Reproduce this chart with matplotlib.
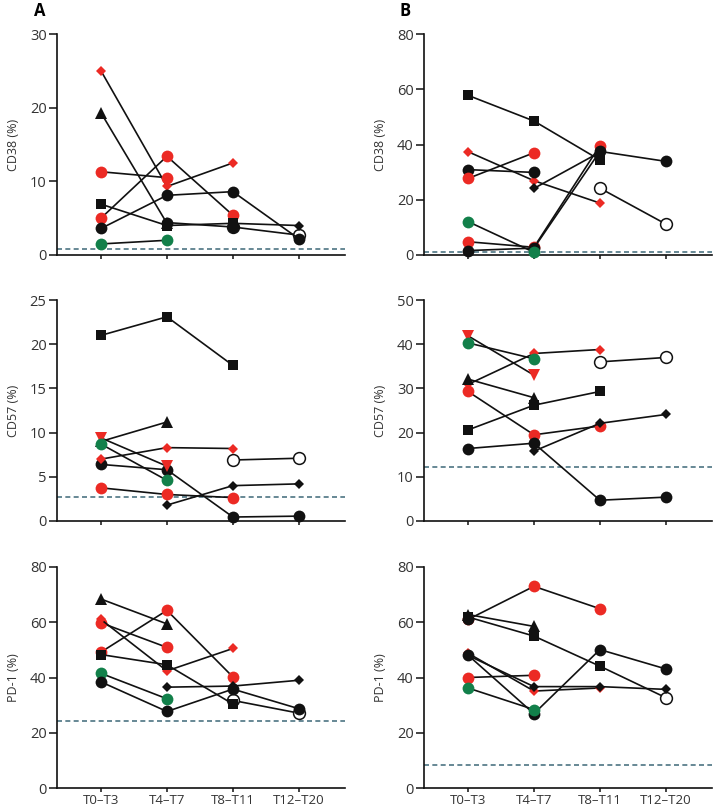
import numpy as np
import matplotlib
matplotlib.use("Agg")
import matplotlib.pyplot as plt

nan = np.nan

periods = ["T0\u2013T3", "T4\u2013T7", "T8\u2013T11", "T12\u2013T20"]

# each panel: list of (style, values at the four periods); drawn in list order
cd38_a = [
    ("open_circle", [nan, nan, 3.8, 2.7]),
    ("black_diamond", [nan, nan, 4.3, 4.0]),
    ("black_circle", [nan, 4.4, 3.8, nan]),
    ("red_diamond", [25.0, 9.3, 12.5, nan]),
    ("black_triangle", [19.3, 4.3, nan, nan]),
    ("red_circle", [11.3, 10.5, nan, nan]),
    ("red_circle", [5.0, 13.4, 5.4, nan]),
    ("black_square", [6.9, 4.0, 4.3, nan]),
    ("black_circle", [3.6, 8.1, 8.6, 2.2]),
    ("green_circle", [1.5, 2.0, nan, nan]),
]
cd38_b = [
    ("open_circle", [nan, nan, 24.2, 11.2]),
    ("black_square", [57.8, 48.5, 34.4, nan]),
    ("red_diamond", [37.4, 26.9, 18.8, nan]),
    ("black_circle", [30.9, 29.9, nan, nan]),
    ("red_circle", [27.7, 37.0, nan, nan]),
    ("black_diamond", [nan, 24.1, 37.2, nan]),
    ("red_circle", [4.8, 2.8, 39.6, nan]),
    ("black_circle", [1.6, 2.5, 37.5, 33.9]),
    ("green_circle", [12.1, 1.0, nan, nan]),
]
cd57_a = [
    ("open_circle", [nan, nan, 6.9, 7.1]),
    ("black_square", [21.0, 23.1, 17.6, nan]),
    ("black_triangle", [9.0, 11.2, nan, nan]),
    ("black_circle", [6.4, 5.8, 0.45, 0.55]),
    ("red_triangle", [9.4, 6.2, nan, nan]),
    ("green_circle", [8.7, 4.6, nan, nan]),
    ("red_diamond", [7.0, 8.3, 8.2, nan]),
    ("red_circle", [3.75, 3.0, 2.65, nan]),
    ("black_diamond", [nan, 1.8, 4.0, 4.2]),
]
cd57_b = [
    ("open_circle", [nan, nan, 36.0, 37.0]),
    ("red_diamond", [30.9, 37.9, 38.8, nan]),
    ("red_triangle", [41.9, 33.0, nan, nan]),
    ("green_circle", [40.3, 36.7, nan, nan]),
    ("black_triangle", [32.1, 27.9, nan, nan]),
    ("red_circle", [29.3, 19.5, 21.5, nan]),
    ("black_square", [20.6, 26.2, 29.3, nan]),
    ("black_circle", [16.4, 17.6, 4.7, 5.4]),
    ("black_diamond", [nan, 15.8, 22.1, 24.1]),
]
pd1_a = [
    ("open_circle", [nan, nan, 31.7, 27.1]),
    ("black_triangle", [68.4, 59.4, nan, nan]),
    ("red_circle", [59.8, 50.9, nan, nan]),
    ("red_diamond", [61.0, 42.4, 50.5, nan]),
    ("red_circle", [49.2, 64.3, 40.2, nan]),
    ("black_square", [48.3, 44.6, 30.4, nan]),
    ("green_circle", [41.5, 32.3, nan, nan]),
    ("black_circle", [38.4, 27.7, 35.8, 28.7]),
    ("black_diamond", [nan, 36.5, 36.9, 39.0]),
]
pd1_b = [
    ("line", [nan, nan, 44.1, 32.7]),
    ("open_circle", [nan, nan, nan, 32.7]),
    ("red_circle", [61.0, 73.0, 64.9, nan]),
    ("black_triangle", [62.8, 58.5, nan, nan]),
    ("black_square", [61.9, 55.0, 44.1, nan]),
    ("black_circle", [61.0, nan, nan, nan]),
    ("red_diamond", [48.8, 35.1, 36.2, nan]),
    ("black_diamond", [48.0, 36.7, 36.7, 35.7]),
    ("black_circle", [48.1, 26.9, 50.1, 43.1]),
    ("red_circle", [40.0, 40.8, nan, nan]),
    ("green_circle", [36.2, 28.4, nan, nan]),
]

panels = [
    [(cd38_a, "CD38 (%)", 30, [0, 10, 20, 30], 0.8),
     (cd38_b, "CD38 (%)", 80, [0, 20, 40, 60, 80], 1.0)],
    [(cd57_a, "CD57 (%)", 25, [0, 5, 10, 15, 20, 25], 2.7),
     (cd57_b, "CD57 (%)", 50, [0, 10, 20, 30, 40, 50], 12.3)],
    [(pd1_a, "PD-1 (%)", 80, [0, 20, 40, 60, 80], 24.2),
     (pd1_b, "PD-1 (%)", 80, [0, 20, 40, 60, 80], 8.4)],
]

RED = "#ec2a24"
GREEN = "#12804a"
styles = {
    "line": dict(marker="None", color="#111111", ms=0),
    "black_circle": dict(marker="o", color="#111111", ms=8.5),
    "red_circle": dict(marker="o", color=RED, ms=8.5),
    "green_circle": dict(marker="o", color=GREEN, ms=8.5),
    "open_circle": dict(marker="o", color="white", ms=8.5, mec="#111111", mew=1.1),
    "red_diamond": dict(marker="D", color=RED, ms=5.5),
    "black_diamond": dict(marker="D", color="#111111", ms=5.5),
    "black_triangle": dict(marker="^", color="#111111", ms=8),
    "red_triangle": dict(marker="v", color=RED, ms=8),
    "black_square": dict(marker="s", color="#111111", ms=7.5),
}

plt.rcParams["font.family"] = ["Open Sans", "DejaVu Sans"]

fig = plt.figure(figsize=(7.14, 8.11), dpi=100)
lefts = [57 / 714, 424 / 714]
bottoms = [1 - 255 / 811, 1 - 521 / 811, 1 - 788 / 811]
w, h = 288 / 714, 221 / 811

x = np.arange(len(periods))
for r, row in enumerate(panels):
    for c, (series, ylabel, ymax, yticks, thresh) in enumerate(row):
        ax = fig.add_axes([lefts[c], bottoms[r], w, h])
        for i, (kind, vals) in enumerate(series):
            st = styles[kind]
            ax.plot(x, vals, linestyle="-", color="#111111", lw=1.2,
                    marker=st["marker"], ms=st["ms"],
                    mfc=st["color"], mec=st.get("mec", st["color"]),
                    mew=st.get("mew", 0), zorder=3 + i * 0.01, clip_on=False)
        ax.axhline(thresh, color="#4d7483", lw=1.2, ls=(0, (3, 2)), zorder=2)
        ax.set_xlim(-0.667, 3.7)
        ax.set_ylim(0, ymax)
        ax.set_yticks(yticks)
        ax.set_xticks(x)
        if r == 2:
            ax.set_xticklabels(periods, fontsize=9.5, color="#333333")
        else:
            ax.set_xticklabels([])
        ax.tick_params(axis="y", labelsize=10.5, colors="#333333", length=5.5,
                       width=1.1, direction="out", pad=2)
        ax.tick_params(axis="x", length=3, width=1.1, direction="out", pad=1)
        ax.tick_params(axis="both", color="#111111")
        ax.set_ylabel(ylabel, fontsize=9, color="#333333", labelpad=7)
        for s in ["top", "right"]:
            ax.spines[s].set_visible(False)
        for s in ["left", "bottom"]:
            ax.spines[s].set_linewidth(1.2)
            ax.spines[s].set_color("#111111")

fig.text(40 / 714, 1 - 11 / 811, "A", fontsize=12, fontweight="bold",
         ha="center", va="center")
fig.text(405 / 714, 1 - 11 / 811, "B", fontsize=12, fontweight="bold",
         ha="center", va="center")

fig.savefig("out.png", dpi=100)
